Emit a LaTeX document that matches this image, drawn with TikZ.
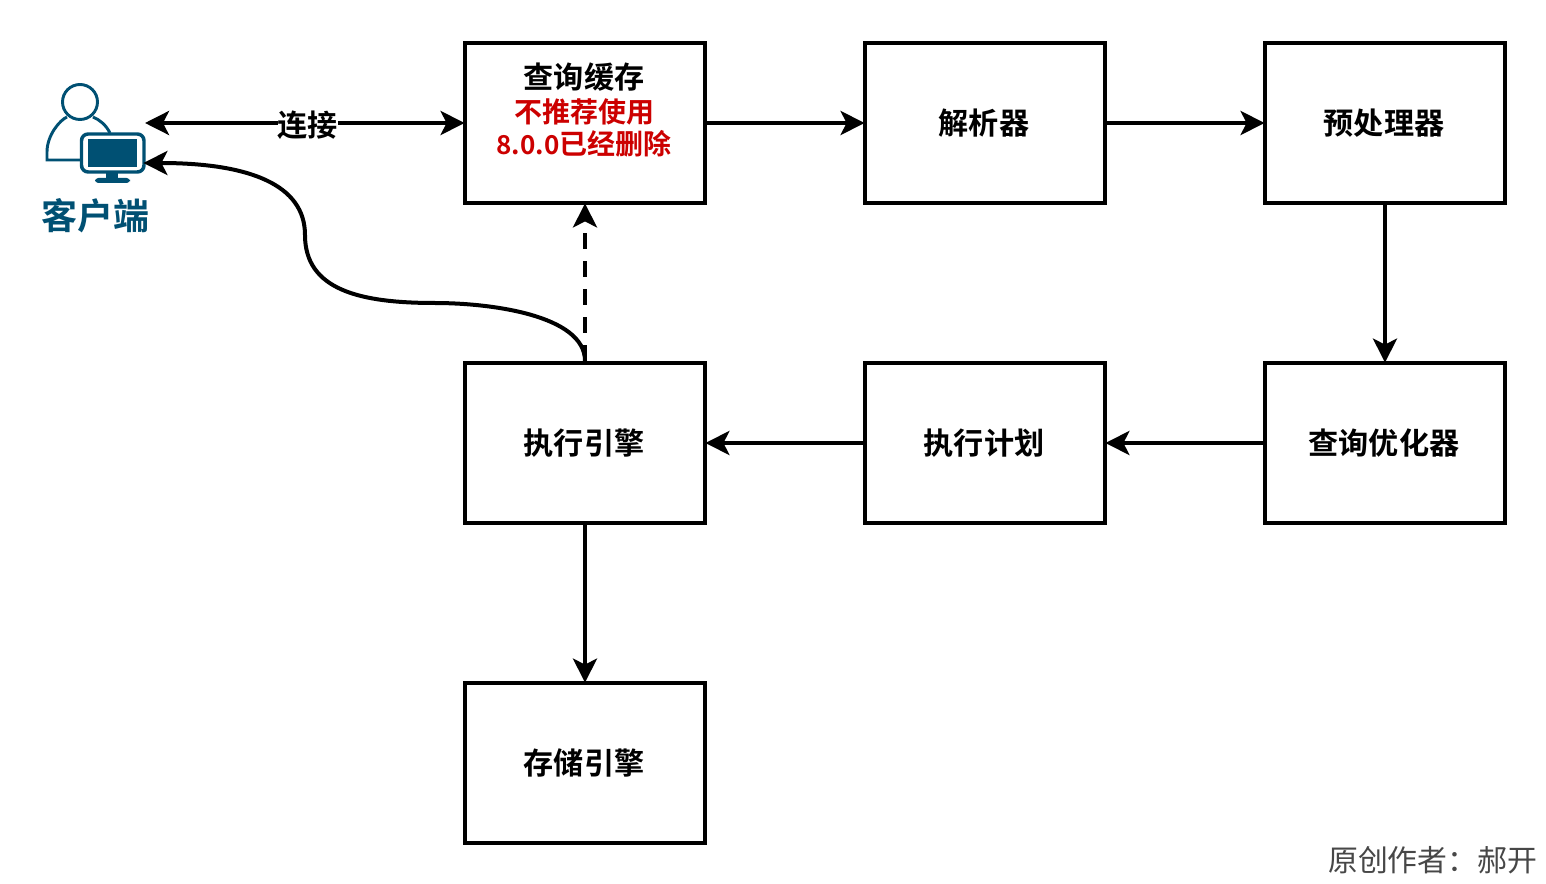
\documentclass[tikz,border=0pt]{standalone}
\usepackage{fontspec}
\setmainfont{Noto Sans CJK SC}[BoldFont={Noto Sans CJK SC Bold}]
\usetikzlibrary{arrows.meta}
\definecolor{teal}{HTML}{005073}
\definecolor{redt}{HTML}{CC0000}
\newcommand{\lab}[1]{\raisebox{-0.7pt}{#1}\kern1.5pt}
\tikzset{
  x=0.75pt,y=-0.75pt,
  box/.style={draw=black,line width=3pt,minimum width=180pt,minimum height=120pt,inner sep=0pt,fill=white,align=center,font=\bfseries\fontsize{22.6}{22.6}\selectfont},
  conn/.style={line width=3pt,draw=black,-{Stealth[length=18pt,width=18pt,inset=4.5pt]},shorten >=-1.2pt},
  both/.style={conn,{Stealth[length=18pt,width=18pt,inset=4.5pt]}-{Stealth[length=18pt,width=18pt,inset=4.5pt]}},
  icon/.style={draw=teal,line width=2.2pt},
}
\begin{document}
\begin{tikzpicture}
\useasboundingbox (0,0) rectangle (1546,884);
\node[box] (cache) at (585,123) {};
\node[align=center,inner sep=0pt,font=\bfseries] (cachetxt) at (584,110) {\fontsize{22.6}{31}\selectfont 查询缓存\\[5pt]\fontsize{21}{24}\selectfont\color{redt}不推荐使用\\[3pt]\color{redt}\fontsize{19.5}{24}\selectfont 8.0.0\fontsize{21}{24}\selectfont 已经删除};
\node[box] (parser) at (985,123) {\lab{解析器}};
\node[box] (pre) at (1385,123) {\lab{预处理器}};
\node[box] (opt) at (1385,443) {\lab{查询优化器}};
\node[box] (plan) at (985,443) {\lab{执行计划}};
\node[box] (exec) at (585,443) {\lab{执行引擎}};
\node[box] (store) at (585,763) {\lab{存储引擎}};
% client icon
\draw[icon] (80,102) circle (17.5);
\draw[icon] (81,160) -- (47,160) -- (47,152) .. controls (47,135) and (60,120) .. (67,117);
\draw[icon] (93,117) .. controls (100,120) and (106,125) .. (110,133);
\draw[icon,line width=2.6pt,rounded corners=5pt,fill=white] (81.5,134) rectangle (144,172);
\fill[teal] (88,139) rectangle (137,167);
\fill[teal] (106,172) rectangle (118,178);
\fill[teal,rounded corners=2.5pt] (95,178) rectangle (130,183);
\coordinate (cl1) at (145,123);
\coordinate (cl2) at (145,163);
\node[inner sep=0pt,text=teal,font=\bfseries\fontsize{27}{27}\selectfont] (client) at (95,216) {客户端};
% connectors
\draw[both] (cl1) -- (cache.west) node[pos=0.5,xshift=2.9pt,yshift=-2pt,fill=white,inner sep=0pt,font=\bfseries\fontsize{22.6}{22.6}\selectfont,text=black] (conlabel) {连接};
\draw[conn] (cache.east) -- (parser.west);
\draw[conn] (parser.east) -- (pre.west);
\draw[conn] (pre.south) -- (opt.north);
\draw[conn] (opt.west) -- (plan.east);
\draw[conn] (plan.west) -- (exec.east);
\draw[conn] (exec.south) -- (store.north);
\draw[conn,dash pattern=on 12pt off 9pt] (exec.north) -- (cache.south);
\draw[conn] (exec.north) .. controls (585,315) and (490,303) .. (435,303) .. controls (360,303) and (305,290) .. (305,235) .. controls (305,185) and (250,163) .. (cl2);
\node[anchor=east,inner sep=0pt,text=black!72,font=\fontsize{22.4}{22.4}\selectfont] (author) at (1537.5,860) {原创作者：郝开};
\end{tikzpicture}
\end{document}
